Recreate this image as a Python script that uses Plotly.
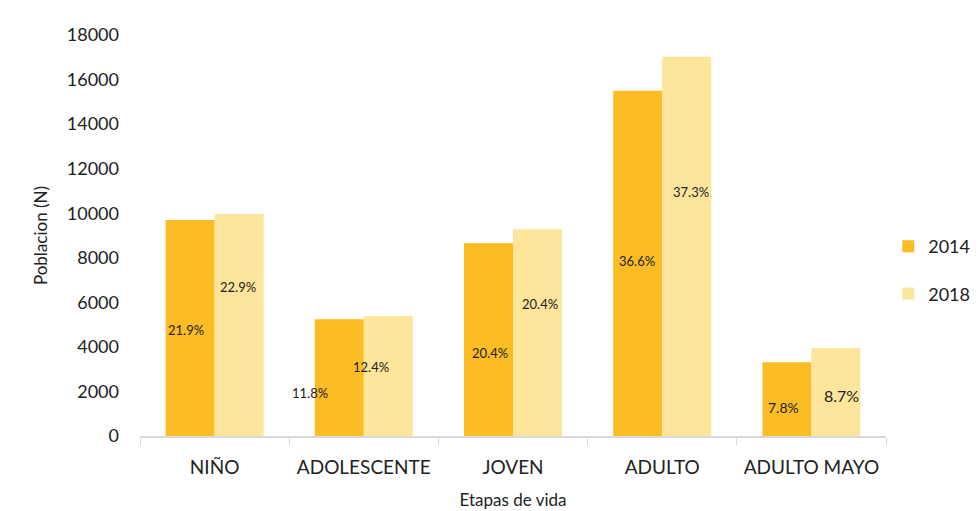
import plotly.graph_objects as go

categories = ["NIÑO", "ADOLESCENTE", "JOVEN", "ADULTO", "ADULTO MAYO"]
years = ["2014", "2018"]
values_2014 = [9700, 5240, 8650, 15500, 3310]
values_2018 = [9960, 5390, 9280, 17020, 3950]
labels_2014 = ["21.9%", "11.8%", "20.4%", "36.6%", "7.8%"]
labels_2018 = ["22.9%", "12.4%", "20.4%", "37.3%", "8.7%"]
y_ticks = [0, 2000, 4000, 6000, 8000, 10000, 12000, 14000, 16000, 18000]

# label placement (layout only)
label_y_2014 = [4760, 1930, 3720, 7850, 1260]
label_y_2018 = [6690, 3100, 5920, 10950, 1840]
label_dx_2014 = [-4, -29, 1, -1, -3]
label_dx_2018 = [-1, -17, 2, 4, 6]
label_size_2014 = [13, 13, 13, 13, 14]
label_size_2018 = [13, 13, 13, 13, 16]

C14 = "#FBBD23"
C18 = "#FDE59C"
FONT = "Lato"

fig = go.Figure()
fig.add_trace(go.Bar(x=categories, y=values_2014, name=years[0], marker_color=C14,
                     marker_line_width=0, legendgroup="a"))
fig.add_trace(go.Bar(x=categories, y=values_2018, name=years[1], marker_color=C18,
                     marker_line_width=0, legendgroup="b"))

half = 24.5
anns = []
for i, c in enumerate(categories):
    anns.append(dict(x=c, y=label_y_2014[i], xref="x", yref="y", text=labels_2014[i],
                     showarrow=False, xshift=-half + label_dx_2014[i],
                     font=dict(family=FONT, size=label_size_2014[i], color="#222")))
    anns.append(dict(x=c, y=label_y_2018[i], xref="x", yref="y", text=labels_2018[i],
                     showarrow=False, xshift=half + label_dx_2018[i],
                     font=dict(family=FONT, size=label_size_2018[i], color="#222")))

fig.update_layout(
    width=978, height=511,
    margin=dict(l=132, r=100, t=27, b=83, autoexpand=False),
    paper_bgcolor="white", plot_bgcolor="white",
    barmode="group", bargap=0.343, bargroupgap=0,
    font=dict(family=FONT, size=18, color="#222"),
    showlegend=True,
    legend=dict(x=1.003, y=0.414, xanchor="left", yanchor="middle",
                font=dict(family=FONT, size=18, color="#222"),
                itemwidth=30, tracegroupgap=21, bgcolor="rgba(0,0,0,0)"),
    annotations=anns,
)
fig.update_xaxes(
    showgrid=False, showline=True, linecolor="#D9D9D9", linewidth=1.5,
    ticks="outside", tickson="boundaries", ticklen=7, tickcolor="#D9D9D9",
    ticklabelstandoff=13,
    tickfont=dict(family=FONT, size=19, color="#222"),
    title=dict(text="Etapas de vida", font=dict(family=FONT, size=17, color="#222"),
               standoff=18),
)
fig.update_yaxes(
    range=[0, 18000], tickvals=y_ticks, tickformat="d", showgrid=False, zeroline=False,
    showline=False, ticks="", ticklabelstandoff=20,
    tickfont=dict(family=FONT, size=18, color="#222"),
    title=dict(text="Poblacion (N)", font=dict(family=FONT, size=17, color="#222"),
               standoff=14),
)

fig.write_html("out.html")
